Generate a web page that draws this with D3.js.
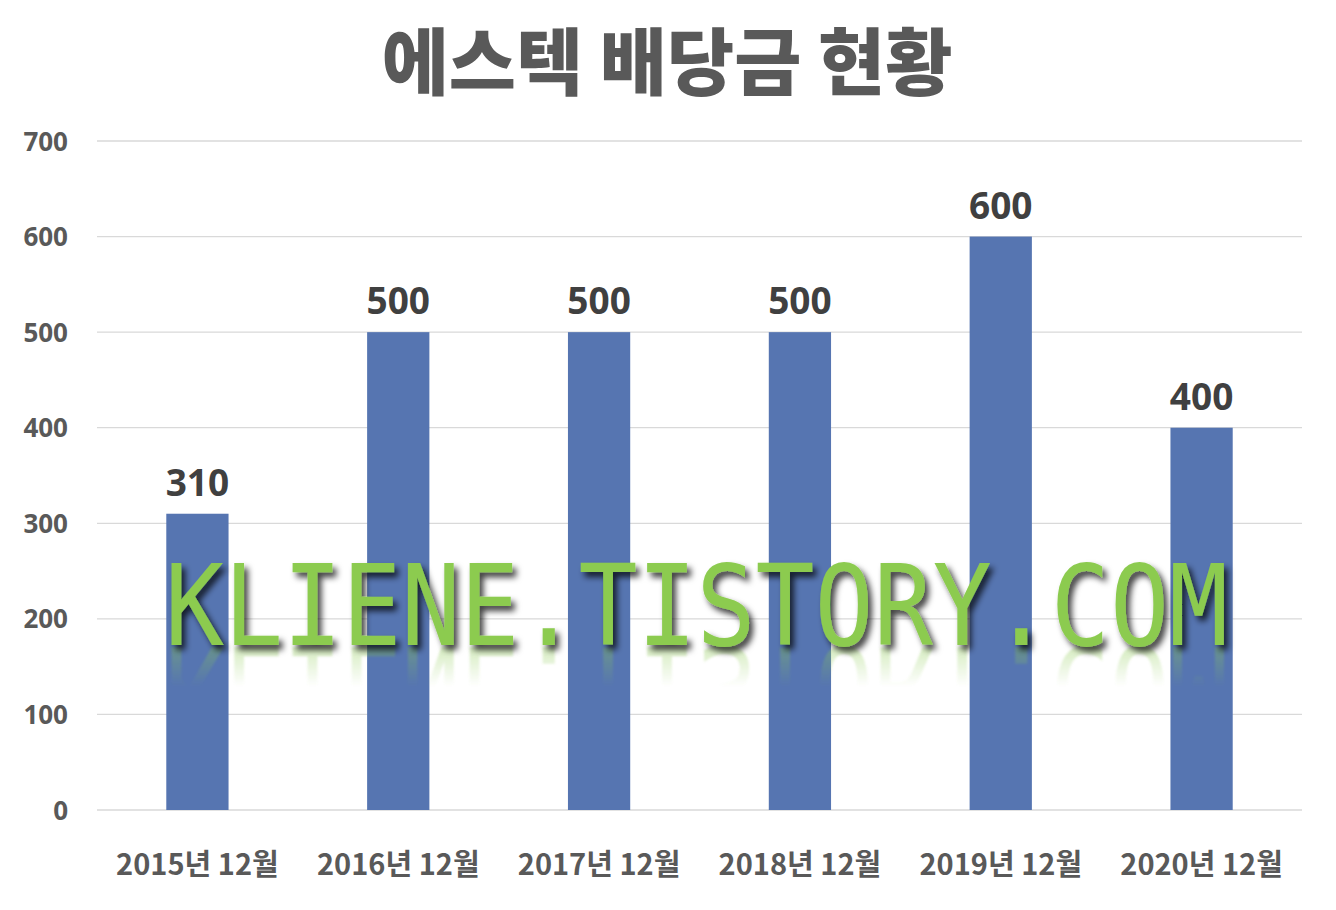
<!DOCTYPE html>
<html><head><meta charset="utf-8">
<script src="https://cdn.jsdelivr.net/npm/d3@7"></script>
<style>body{margin:0;background:#fff}svg{display:block}</style>
</head><body>
<script>
const categories = ["2015년 12월","2016년 12월","2017년 12월","2018년 12월","2019년 12월","2020년 12월"];
const dividends = [310,500,500,500,600,400];
const yTicks = [0,100,200,300,400,500,600,700];
const title = "에스텍 배당금 현황";
const watermark = "KLIENE.TISTORY.COM";

const W=1336,H=910;
const svg=d3.select("body").append("svg").attr("width",W).attr("height",H);
const defs=svg.append("defs");
const f=defs.append("filter").attr("id","sh").attr("x","-5%").attr("y","-20%").attr("width","110%").attr("height","150%");
f.append("feDropShadow").attr("dx",4).attr("dy",5).attr("stdDeviation",3).attr("flood-color","#000").attr("flood-opacity",0.75);
const g1=defs.append("linearGradient").attr("id","refl").attr("x1",0).attr("y1",0).attr("x2",0).attr("y2",1);
g1.append("stop").attr("offset","50%").attr("stop-color","#8CCB50").attr("stop-opacity",0);
g1.append("stop").attr("offset","100%").attr("stop-color","#8CCB50").attr("stop-opacity",0.6);
const blur=defs.append("filter").attr("id","bl");
blur.append("feGaussianBlur").attr("stdDeviation",1.2);

const x=d3.scaleBand().domain(categories).range([97,1302]).paddingInner(0.69).paddingOuter(0.345);
const y=d3.scaleLinear().domain([0,700]).range([810,141]);

svg.append("g").selectAll("line").data(yTicks).join("line")
  .attr("x1",97).attr("x2",1302).attr("y1",d=>y(d)).attr("y2",d=>y(d))
  .attr("stroke","#d9d9d9").attr("stroke-width",1.3);

const yAxis=svg.append("g").attr("transform","translate(97,0)")
  .call(d3.axisLeft(y).tickValues(yTicks).tickSize(0).tickPadding(29));
yAxis.select(".domain").remove();
yAxis.selectAll("text").attr("font-family","'Open Sans','Noto Sans CJK KR',sans-serif").attr("font-weight","bold")
  .attr("font-size",26).attr("fill","#595959").attr("dy","0.35em");

svg.append("g").selectAll("rect").data(dividends).join("rect")
  .attr("x",(d,i)=>x(categories[i])).attr("width",x.bandwidth())
  .attr("y",d=>y(d)).attr("height",d=>y(0)-y(d)).attr("fill","#5675B1");

const xAxis=svg.append("g").attr("transform","translate(0,810)")
  .call(d3.axisBottom(x).tickSize(0).tickPadding(44));
xAxis.select(".domain").remove();
xAxis.selectAll("text").attr("font-family","'Noto Sans CJK KR',sans-serif").attr("font-weight","bold")
  .attr("font-size",29).attr("fill","#595959").attr("dy","0.71em");

svg.append("g").selectAll("text").data(dividends).join("text")
  .attr("x",(d,i)=>x(categories[i])+x.bandwidth()/2).attr("y",d=>y(d)-18)
  .attr("text-anchor","middle").attr("font-family","'Open Sans',sans-serif").attr("font-weight","bold")
  .attr("font-size",37).attr("fill","#404040").text(d=>d);

svg.append("text").attr("x",667).attr("y",89).attr("text-anchor","middle")
  .attr("font-family","'Noto Sans CJK KR',sans-serif").attr("font-weight","900")
  .attr("font-size",73).attr("fill","#595959").text(title);

// watermark reflection
svg.append("text").attr("x",165).attr("y",645)
  .attr("textLength",1063).attr("lengthAdjust","spacingAndGlyphs")
  .attr("font-family","'DejaVu Sans Mono','Liberation Mono',monospace").attr("font-size",112)
  .attr("fill","url(#refl)").attr("filter","url(#bl)").text(watermark)
  .attr("transform","translate(0,1292) scale(1,-1)");
svg.append("text").attr("x",165).attr("y",645)
  .attr("textLength",1063).attr("lengthAdjust","spacingAndGlyphs")
  .attr("font-family","'DejaVu Sans Mono','Liberation Mono',monospace").attr("font-size",112)
  .attr("fill","#8CCB50").attr("filter","url(#sh)").text(watermark);
</script>
</body></html>
